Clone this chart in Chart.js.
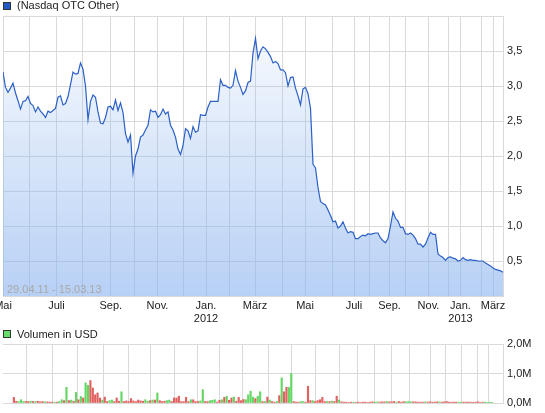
<!DOCTYPE html>
<html>
<head>
<meta charset="utf-8">
<title>Nasdaq OTC Other</title>
<script src="https://cdn.jsdelivr.net/npm/chart.js@4"></script>
<style>
  html, body { margin: 0; padding: 0; background: #fff; }
  body { width: 545px; height: 413px; position: relative; overflow: hidden; font-family: "Liberation Sans", Arial, sans-serif; }
  canvas { position: absolute; left: 0; }
  #price { top: 0; }
  #vol { top: 326px; }
  .sq { position: absolute; left: 3px; width: 6px; height: 6px; border: 1px solid #333; }
  .lbl { position: absolute; left: 17px; font-size: 11px; line-height: 11px; color: #222; white-space: nowrap; }
  .range { position: absolute; left: 7px; top: 284px; font-size: 11px; line-height: 11px; color: #a8a8a8; }
</style>
</head>
<body>
<canvas id="price" width="545" height="325"></canvas>
<canvas id="vol" width="545" height="87"></canvas>

<span class="sq" style="top:2px;background:#1f5cc4"></span>
<span class="lbl" style="top:0">(Nasdaq OTC Other)</span>
<span class="sq" style="top:330px;background:#66dd66"></span>
<span class="lbl" style="top:329px">Volumen in USD</span>
<div class="range">29.04.11 - 15.03.13</div>

<script>
// price per trading step (x = step index 0..200)
const prices = [
  3.20, 2.98, 2.91, 2.97, 3.04, 2.90, 2.79, 2.67, 2.78, 2.79,
  2.85, 2.75, 2.72, 2.63, 2.70, 2.64, 2.60, 2.55, 2.64, 2.62,
  2.65, 2.68, 2.84, 2.86, 2.73, 2.75, 2.85, 3.02, 3.20, 3.17,
  3.18, 3.33, 3.24, 3.00, 2.52, 2.78, 2.87, 2.84, 2.63, 2.47,
  2.46, 2.55, 2.70, 2.71, 2.66, 2.80, 2.65, 2.76, 2.62, 2.32,
  2.20, 2.30, 1.76, 2.00, 2.10, 2.27, 2.30, 2.37, 2.44, 2.66,
  2.63, 2.64, 2.55, 2.59, 2.67, 2.60, 2.63, 2.44, 2.37, 2.27,
  2.10, 2.02, 2.15, 2.39, 2.36, 2.25, 2.42, 2.34, 2.36, 2.59,
  2.58, 2.58, 2.70, 2.78, 2.78, 2.78, 2.78, 3.09, 3.01, 3.01,
  2.98, 2.97, 3.01, 3.22, 3.07, 2.98, 2.88, 2.93, 3.05, 3.07,
  3.47, 3.68, 3.39, 3.50, 3.56, 3.53, 3.48, 3.42, 3.33, 3.35,
  3.32, 3.23, 3.23, 3.19, 3.00, 3.12, 3.13, 2.97, 2.86, 2.73,
  2.96, 2.98, 2.89, 2.68, 1.88, 1.83, 1.55, 1.35, 1.32, 1.30,
  1.23, 1.15, 1.06, 1.07, 0.97, 1.00, 1.06, 0.97, 0.90, 0.92,
  0.91, 0.82, 0.82, 0.85, 0.87, 0.86, 0.89, 0.88, 0.89, 0.90,
  0.90, 0.83, 0.79, 0.76, 0.82, 1.00, 1.20, 1.11, 1.07, 0.98,
  0.98, 0.89, 0.88, 0.90, 0.87, 0.82, 0.74, 0.74, 0.70, 0.74,
  0.83, 0.91, 0.88, 0.88, 0.60, 0.57, 0.55, 0.51, 0.55, 0.56,
  0.54, 0.53, 0.50, 0.51, 0.55, 0.52, 0.51, 0.52, 0.51, 0.51,
  0.50, 0.50, 0.50, 0.47, 0.45, 0.43, 0.40, 0.38, 0.37, 0.36, 0.34
];

// volume in millions USD, same steps
const volumes = [
  0.19, 0.06, 0.05, 0.11, 0.05, 0.05, 0.05, 0.06, 0.05, 0.05,
  0.06, 0.04, 0.05, 0.04, 0.04, 0.03, 0.03, 0.03, 0.03, 0.05,
  0.11, 0.08, 0.53, 0.08, 0.10, 0.06, 0.36, 0.11, 0.22, 0.17,
  0.68, 0.60, 0.76, 0.51, 0.28, 0.34, 0.17, 0.10, 0.20, 0.05,
  0.08, 0.10, 0.05, 0.17, 0.06, 0.38, 0.05, 0.07, 0.05, 0.15,
  0.07, 0.05, 0.10, 0.07, 0.06, 0.11, 0.06, 0.08, 0.10, 0.10,
  0.34, 0.08, 0.05, 0.06, 0.08, 0.10, 0.05, 0.17, 0.17, 0.23,
  0.05, 0.05, 0.19, 0.05, 0.11, 0.11, 0.05, 0.05, 0.07, 0.45,
  0.05, 0.05, 0.08, 0.09, 0.11, 0.03, 0.09, 0.11, 0.19, 0.23,
  0.09, 0.17, 0.20, 0.06, 0.19, 0.08, 0.12, 0.11, 0.28, 0.40,
  0.20, 0.15, 0.23, 0.38, 0.05, 0.05, 0.20, 0.10, 0.05, 0.03,
  0.05, 0.25, 0.85, 0.38, 0.53, 0.53, 1.00, 0.05, 0.03, 0.03,
  0.05, 0.05, 0.03, 0.57, 0.08, 0.08, 0.05, 0.08, 0.11, 0.19,
  0.05, 0.05, 0.05, 0.06, 0.05, 0.23, 0.10, 0.04, 0.03, 0.03,
  0.02, 0.03, 0.03, 0.02, 0.03, 0.02, 0.03, 0.03, 0.02, 0.03,
  0.04, 0.03, 0.04, 0.03, 0.04, 0.04, 0.05, 0.04, 0.04, 0.05,
  0.03, 0.05, 0.03, 0.05, 0.04, 0.05, 0.04, 0.04, 0.04, 0.03,
  0.03, 0.03, 0.04, 0.03, 0.04, 0.03, 0.03, 0.04, 0.04, 0.03,
  0.04, 0.05, 0.03, 0.03, 0.03, 0.03, 0.03, 0.03, 0.03, 0.03,
  0.03, 0.03, 0.02, 0.03, 0.04, 0.02, 0.03, 0.03, 0.02, 0.03, 0.02
];

// 1 = up day (green), 0 = down day (red)
const volUp = [
  0,0,1,1,1,0,0,1,0,1,  0,0,0,1,0,0,0,1,0,1,
  1,0,1,0,1,0,1,0,1,0,  1,1,0,0,0,0,0,1,0,0,
  1,1,0,0,0,1,0,0,0,0,  0,0,0,0,0,1,1,0,1,0,
  1,0,0,0,1,1,0,0,0,0,  0,0,0,0,1,0,0,0,1,1,
  0,0,1,1,1,0,0,1,0,1,  0,0,1,0,0,0,0,1,1,1,
  1,0,1,1,0,1,0,1,0,0,  1,0,1,0,0,1,1,0,0,0,
  1,1,0,0,0,1,0,0,0,0,  0,1,0,1,0,0,1,0,0,0,
  0,0,1,0,0,0,0,0,0,0,  0,1,1,0,0,0,1,0,0,0,
  1,0,0,0,1,1,1,0,0,0,  0,0,1,0,0,0,0,0,1,0,
  0,0,0,0,0,0,1,1,0,0,  0,0,0,0,0,0,0,1,1,1,1
];

// step index where each month starts, and its label
const monthIdx = [0, 10.7, 21.4, 31.8, 43.1, 52.4, 61.8, 72.2, 81.2, 90.6, 100.8, 111.8,
  120.8, 131.8, 140.4, 146.6, 154.6, 161, 170.2, 178.2, 183, 191.4, 196];
const monthLabels = ['Mai', '', 'Juli', '', 'Sep.', '', 'Nov.', '', ['Jan.', '2012'], '', 'März', '',
  'Mai', '', 'Juli', '', 'Sep.', '', 'Nov.', '', ['Jan.', '2013'], '', 'März'];

const priceTicks = [0.5, 1.0, 1.5, 2.0, 2.5, 3.0, 3.5];
const volTicks = [0, 1, 2];

const FONT = '"Liberation Sans", Arial, sans-serif';
const GRID = '#dadada';
const fmt = v => v.toFixed(1).replace('.', ',');

Chart.defaults.font.family = FONT;
Chart.defaults.font.size = 11;
Chart.defaults.color = '#222';

const xScale = (showLabels) => ({
  type: 'linear', min: 0, max: prices.length - 1,
  afterBuildTicks: s => { s.ticks = monthIdx.map(v => ({ value: v })); },
  afterFit: s => {
    s.height = showLabels ? 29 : 0;
    // keep the plot flush with the left edge, labels may be cut like the original
    s.paddingLeft = 0; s.paddingRight = 0;
  },
  grid: { color: GRID, drawTicks: false },
  border: { color: GRID },
  ticks: { display: showLabels, autoSkip: false, maxRotation: 0, padding: 3,
    callback: (v, i) => monthLabels[i] }
});

const yFit = s => { s.width = 42; s.paddingTop = 0; s.paddingBottom = 0; };

new Chart(document.getElementById('price'), {
  type: 'line',
  data: {
    datasets: [{
      data: prices.map((v, i) => ({ x: i, y: v })),
      borderColor: '#2b60c6',
      borderWidth: 1.2,
      pointRadius: 0,
      tension: 0,
      fill: 'origin',
      backgroundColor: c => {
        const a = c.chart.chartArea;
        if (!a) return 'rgba(135,177,238,0.3)';
        const g = c.chart.ctx.createLinearGradient(0, a.top, 0, a.bottom);
        g.addColorStop(0, 'rgba(135,177,238,0.04)');
        g.addColorStop(1, 'rgba(135,177,238,0.6)');
        return g;
      }
    }]
  },
  options: {
    responsive: false,
    animation: false,
    layout: { padding: { top: 16, left: 3, right: 0, bottom: 0 }, autoPadding: false },
    plugins: { legend: { display: false }, tooltip: { enabled: false } },
    scales: {
      x: xScale(true),
      y: {
        position: 'right', min: 0, max: 4,
        afterBuildTicks: s => { s.ticks = [0].concat(priceTicks, [4]).map(v => ({ value: v })); },
        afterFit: yFit,
        grid: { color: GRID, drawTicks: false },
        border: { color: GRID },
        ticks: { padding: 4, callback: v => priceTicks.includes(v) ? fmt(v) : '' }
      }
    }
  }
});

new Chart(document.getElementById('vol'), {
  type: 'bar',
  data: {
    datasets: [{
      data: volumes.map((v, i) => ({ x: i, y: v })),
      backgroundColor: volUp.map(u => u ? '#63d663' : '#e06060'),
      barThickness: 1.5,
      borderWidth: 0
    }]
  },
  options: {
    responsive: false,
    animation: false,
    layout: { padding: { top: 18, left: 3, right: 0, bottom: 10 }, autoPadding: false },
    plugins: { legend: { display: false }, tooltip: { enabled: false } },
    scales: {
      x: xScale(false),
      y: {
        position: 'right', min: 0, max: 2,
        afterBuildTicks: s => { s.ticks = volTicks.map(v => ({ value: v })); },
        afterFit: yFit,
        grid: { color: GRID, drawTicks: false },
        border: { color: GRID },
        ticks: { padding: 4, callback: v => fmt(v) + 'M' }
      }
    }
  }
});
</script>
</body>
</html>
